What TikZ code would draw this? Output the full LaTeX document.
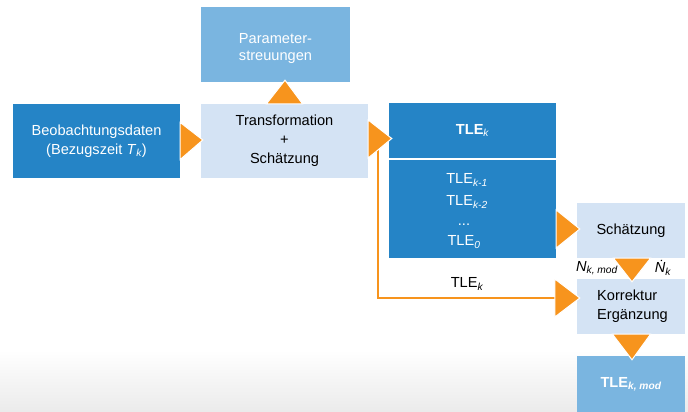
\documentclass[tikz,border=0pt]{standalone}
\usepackage{fontspec}
\setmainfont{Liberation Sans}
\usetikzlibrary{calc}
\definecolor{dblue}{HTML}{2584C6}
\definecolor{lblue}{HTML}{D4E3F4}
\definecolor{mblue}{HTML}{7AB5E0}
\definecolor{orng}{HTML}{F7941D}
\newcommand\isub[1]{\textsubscript{\itshape #1}}
\begin{document}
\begin{tikzpicture}[x=1pt,y=-1pt,
  every node/.style={font=\fontsize{14.6}{19}\selectfont, inner sep=0pt},
  darkbox/.style={rectangle, fill=dblue, text=white, align=center},
  lightbox/.style={rectangle, fill=lblue, text=black, align=center},
  midbox/.style={rectangle, fill=mblue, text=white, align=center},
  tri/.style={fill=orng, draw=white, line width=1pt, line join=miter},
  oline/.style={draw=orng, line width=2pt},
  lbl/.style={font=\fontsize{14.6}{17}\selectfont\itshape}
]
\useasboundingbox (0,0) rectangle (688,412);
\shade[top color=white, bottom color=black!8] (0,350) rectangle (688,412);

\node[darkbox, minimum width=167pt, minimum height=74pt] (beo) at (96.5,141)
  {Beobachtungsdaten\\(Bezugszeit \textit{T}\isub{k})};
\node[lightbox, minimum width=167pt, minimum height=74pt] (trans) at (284.5,141)
  {\fontsize{14.6}{17.5}\selectfont Transformation\\+\\Schätzung};
\node[midbox, minimum width=149pt, minimum height=75pt] (param) at (275.5,44.5) {};
\node[text=white, align=center, font=\fontsize{14.6}{17}\selectfont] (paramt) at (275.5,48.5)
  {Parameter-\\streuungen};
\node[darkbox, minimum width=167pt, minimum height=55pt] (tlek) at (472.5,130.5)
  {\textbf{TLE}\isub{k}};
\node[darkbox, minimum width=167pt, minimum height=98pt] (tles) at (472.5,209) {};
\node[text=white] (t1) at (467,180) {TLE\isub{k-1}};
\node[text=white] (t2) at (467,202) {TLE\isub{k-2}};
\node[text=white, anchor=base, text height=2pt, text depth=0pt] (t3) at (464,225.5) {...};
\node[text=white] (t4) at (464,242) {TLE\isub{0}};
\node[lightbox, minimum width=108pt, minimum height=55pt] (sch) at (631,230.5) {Schätzung};
\node[lightbox, minimum width=108pt, minimum height=55pt] (korr) at (631,306.5) {};
\node[align=left, anchor=west] (korrt) at (597,306.5) {Korrektur\\Ergänzung};
\node[midbox, minimum width=108pt, minimum height=56pt] (tlemod) at (631,384)
  {\textbf{TLE}\textsubscript{\bfseries\itshape k, mod}};

\node[lbl] (nmod) at (597,268) {N\textsubscript{k, mod}};
\node[lbl] (ndot) at (663,268) {Ṅ\textsubscript{k}};
\node (tlelbl) at (467,284) {TLE\isub{k}};

% orange connector line
\coordinate (split) at ($(trans.east)+(10,-2)$);
\coordinate (kin) at ($(korr.west)+(-22,-8.5)$);
\draw[oline] (split) |- (kin);

% triangles
\filldraw[tri] ($(beo.east)+(0,-18.5)$) -- ($(trans.west)+(2,-1)$) -- ($(beo.east)+(0,18.5)$) -- cycle;
\filldraw[tri] ($(trans.north)+(-18,0)$) -- ($(param.south)+(9.5,-2)$) -- ($(trans.north)+(18,0)$) -- cycle;
\filldraw[tri] ($(trans.east)+(0,-21)$) -- ($(tlek.west)+(3,8)$) -- ($(trans.east)+(0,17)$) -- cycle;
\filldraw[tri] ($(tles.east)+(0,1)$) -- ($(sch.west)+(3,-1.5)$) -- ($(tles.east)+(0,39)$) -- cycle;
\filldraw[tri] ($(kin)+(0,-19)$) -- ($(korr.west)+(3,-8.5)$) -- ($(kin)+(0,19)$) -- cycle;
\filldraw[tri] ($(sch.south)+(-17.5,0)$) -- ($(korr.north)+(1,3)$) -- ($(sch.south)+(19.5,0)$) -- cycle;
\filldraw[tri] ($(korr.south)+(-18.5,0)$) -- ($(tlemod.north)+(1,4)$) -- ($(korr.south)+(19.5,0)$) -- cycle;
\end{tikzpicture}
\end{document}
